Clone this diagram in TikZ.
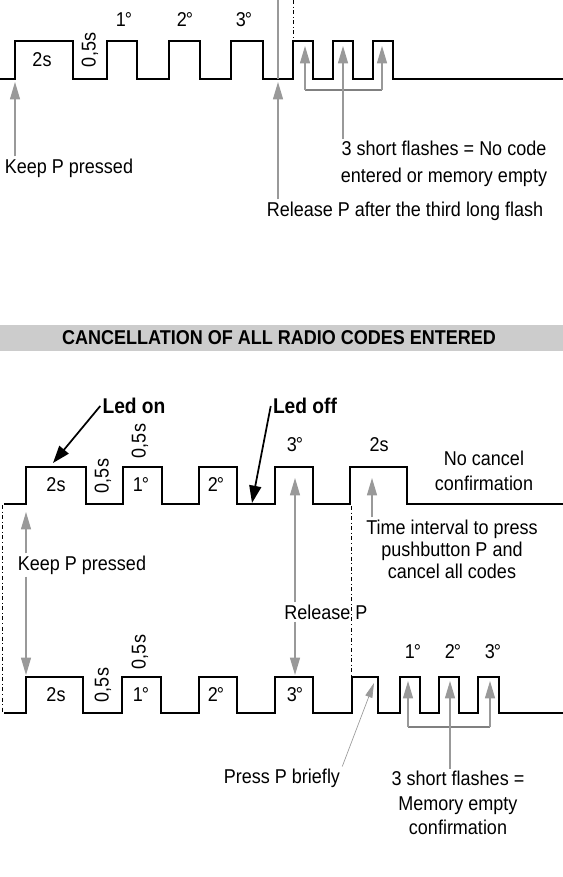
\documentclass[tikz,border=0pt]{standalone}
\usepackage{fontspec}
\setmainfont{Liberation Sans}[FakeStretch=0.9]
\usepackage{tikz}
\usetikzlibrary{arrows.meta, calc}
\definecolor{arrowgray}{rgb}{0.6, 0.6, 0.6}
\definecolor{bannergray}{rgb}{0.8, 0.8, 0.8}
\newcommand{\dg}{\kern-0.05em°}

\begin{document}
\begin{tikzpicture}[x=0.75pt, y=-0.75pt,
	every node/.style={font=\fontsize{15pt}{18pt}\selectfont, inner sep=1.5pt},
	wave/.style={line width=1.8pt, line join=miter},
	grayline/.style={arrowgray, line width=0.9pt},
	grayarrow/.style={grayline, -{Triangle[length=13pt, width=7.5pt]}},
	thinarrow/.style={arrowgray, line width=0.5pt, -{Triangle[length=11pt, width=5.5pt]}},
	bracket/.style={gray, line width=0.8pt},
	ledarrow/.style={line width=1.3pt, -{Triangle[length=13pt, width=9pt]}},
	cutline/.style={line width=0.6pt, dash dot},
	headline/.style={font=\fontsize{15pt}{18pt}\selectfont\bfseries},
	ledtxt/.style={font=\fontsize{16pt}{18pt}\selectfont\bfseries}]
				\useasboundingbox (0,0) rectangle (563,877);

				%% read-out sequence
				\draw [wave] (0,79) -- (15,79) -- (15,41) -- (73,41) -- (73,79) -- (107,79) -- (107,41) -- (137,41) -- (137,79) -- (169,79) -- (169,41) -- (200,41) -- (200,79) -- (231,79) -- (231,41) -- (263,41) -- (263,79) -- (293,79) -- (293,41) -- (313,41) -- (313,79) -- (333,79) -- (333,41) -- (353,41) -- (353,79) -- (373,79) -- (373,41) -- (393,41) -- (393,79) -- (563,79);
				\node (tdur) at (42,60) {2s};
				\node [rotate=90] (tgap) at (90,50) {0,5s};
				\node (tfl1) at (124,20) {1\dg};
				\node (tfl2) at (185,20) {2\dg};
				\node (tfl3) at (244,20) {3\dg};
				\coordinate (ttop) at (278,0);
				\coordinate (tlow) at (278,79);
				\draw [grayline] (ttop) -- (tlow);
				\coordinate (tcut) at (293,0);
				\coordinate (tcutb) at (293,41);
				\draw [cutline] (tcut) -- (tcutb);

				\coordinate (tkeep) at (15,82);
				\node (tkeeptxt) at (69,168) {Keep P pressed};
				\draw [grayarrow] (tkeeptxt.north -| tkeep) -- (tkeep);
				\coordinate (trel) at (278,82);
				\node (treltxt) at (405,211) {Release P after the third long flash};
				\draw [grayarrow] (treltxt.north -| trel) -- (trel);

				\coordinate (ts1) at (305,46);
				\coordinate (ts2) at (343,46);
				\coordinate (ts3) at (382,46);
				\coordinate (tbl) at (305,90);
				\coordinate (tbr) at (382,90);
				\draw [bracket] (tbl) -- (tbr);
				\draw [grayarrow] (tbl) -- (ts1);
				\draw [grayarrow] (tbr) -- (ts3);
				\node [align=center, font=\fontsize{15pt}{20pt}\selectfont] (tshorttxt) at (444,164) {3 short flashes = No code\\entered or memory empty};
				\draw [grayarrow] (tshorttxt.north -| ts2) -- (ts2);

				%% cancellation
				\fill [bannergray] (0,325) rectangle (563,351);
				\node [headline] (banner) at (279,338) {CANCELLATION OF ALL RADIO CODES ENTERED};

				\node [ledtxt] (ledon) at (134,406) {Led on};
				\node [ledtxt] (ledoff) at (305,406) {Led off};
				\coordinate (ledontip) at (53,463);
				\coordinate (ledofftip) at (252,503);
				\draw [ledarrow] (ledon.west) -- (ledontip);
				\draw [ledarrow] (ledoff.west) -- (ledofftip);

				\draw [wave] (4,504) -- (26,504) -- (26,467) -- (86,467) -- (86,504) -- (123,504) -- (123,467) -- (162,467) -- (162,504) -- (199,504) -- (199,467) -- (237,467) -- (237,504) -- (275,504) -- (275,467) -- (313,467) -- (313,504) -- (350,504) -- (350,467) -- (407,467) -- (407,504) -- (563,504);
				\node (mdur) at (56,485) {2s};
				\node [rotate=90] (mgap) at (103,476) {0,5s};
				\node [rotate=90] (mgapb) at (140,441) {0,5s};
				\node (mfl1) at (141,485) {1\dg};
				\node (mfl2) at (216,485) {2\dg};
				\node (mfl3) at (295,445) {3\dg};
				\node (mwait) at (379,445) {2s};
				\node [align=center, font=\fontsize{15pt}{19pt}\selectfont] (nocancel) at (484,471) {No cancel\\confirmation};

				\draw [wave] (4,713) -- (26,713) -- (26,677) -- (83,677) -- (83,713) -- (122,713) -- (122,677) -- (161,677) -- (161,713) -- (199,713) -- (199,677) -- (237,677) -- (237,713) -- (275,713) -- (275,677) -- (313,677) -- (313,713) -- (352,713) -- (352,677) -- (378,677) -- (378,713) -- (400,713) -- (400,677) -- (420,677) -- (420,713) -- (439,713) -- (439,677) -- (459,677) -- (459,713) -- (478,713) -- (478,677) -- (499,677) -- (499,713) -- (563,713);
				\node (bdur) at (56,695) {2s};
				\node [rotate=90] (bgap) at (103,685) {0,5s};
				\node [rotate=90] (bgapb) at (140,652) {0,5s};
				\node (bfl1) at (141,695) {1\dg};
				\node (bfl2) at (216,695) {2\dg};
				\node (bfl3) at (295,695) {3\dg};
				\node (bsf1) at (413,652) {1\dg};
				\node (bsf2) at (453,652) {2\dg};
				\node (bsf3) at (493,652) {3\dg};

				\coordinate (lcut) at (2,505);
				\coordinate (lcutb) at (2,713);
				\draw [cutline] (lcut) -- (lcutb);
				\coordinate (mcut) at (351,506);
				\coordinate (mcutb) at (351,677);
				\draw [cutline] (mcut) -- (mcutb);

				\coordinate (mkeep) at (26,512);
				\coordinate (bkeep) at (26,675);
				\node (mkeeptxt) at (82,565) {Keep P pressed};
				\draw [grayarrow] (mkeeptxt.north -| mkeep) -- (mkeep);
				\draw [grayarrow] (mkeeptxt.south -| bkeep) -- (bkeep);

				\coordinate (mrel) at (295,478);
				\coordinate (brel) at (295,675);
				\node (mreltxt) at (326,612) {Release P};
				\draw [grayarrow] (mreltxt.north -| mrel) -- (mrel);
				\draw [grayarrow] (mreltxt.south -| brel) -- (brel);

				\coordinate (mtime) at (372,478);
				\node [align=center, font=\fontsize{15pt}{16.5pt}\selectfont] (timetxt) at (452,549) {Time interval to press\\pushbutton P and\\cancel all codes};
				\draw [grayarrow] (timetxt.north -| mtime) -- (mtime);

				\coordinate (bs1) at (408,681);
				\coordinate (bs2) at (450,681);
				\coordinate (bs3) at (490,681);
				\coordinate (bbl) at (408,727);
				\coordinate (bbr) at (490,727);
				\draw [bracket] (bbl) -- (bbr);
				\draw [grayarrow] (bbl) -- (bs1);
				\draw [grayarrow] (bbr) -- (bs3);
				\node [align=center, font=\fontsize{15pt}{18.5pt}\selectfont] (bshorttxt) at (458,803) {3 short flashes =\\Memory empty\\confirmation};
				\draw [grayarrow] (bshorttxt.north -| bs2) -- (bs2);

				\coordinate (bpress) at (374,683);
				\node (presstxt) at (282,778) {Press P briefly};
				\draw [thinarrow] (presstxt.north east) -- (bpress);
\end{tikzpicture}
\end{document}
